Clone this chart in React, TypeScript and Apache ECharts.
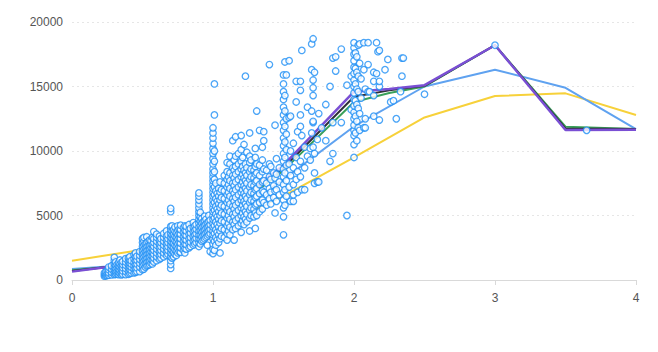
import React, { useEffect, useRef } from "react";
import * as echarts from "echarts";

// Scatter: [carat, prices at that carat]
const smallStones: [number, number[]][] = [
  [0.23, [300, 420, 560]],
  [0.24, [330, 480, 650]],
  [0.25, [350, 520, 720]],
  [0.26, [380, 560, 800, 1000]],
  [0.28, [400, 600, 850, 1100]],
  [0.3, [420, 600, 800, 1000, 1250, 1500, 1750]],
  [0.31, [450, 650, 900, 1150, 1400]],
  [0.32, [480, 700, 950, 1200]],
  [0.33, [420, 620, 850, 1100, 1350]],
  [0.34, [500, 750, 1000, 1250, 1550]],
  [0.35, [400, 600, 850, 1100, 1350]],
  [0.36, [450, 700, 950, 1200, 1450]],
  [0.38, [420, 650, 900, 1150, 1400, 1650]],
  [0.4, [450, 700, 950, 1200, 1450, 1700]],
  [0.41, [500, 800, 1050, 1300, 1550, 1800]],
  [0.42, [550, 750, 1000, 1250, 1500]],
  [0.44, [550, 850, 1100, 1350, 1650, 1950]],
  [0.45, [600, 900, 1200, 1500, 1800, 2100]],
  [0.46, [650, 950, 1250, 1550, 1850]],
  [0.48, [650, 1000, 1300, 1600, 1900, 2200]],
  [0.5, [800, 1100, 1400, 1700, 2000, 2300, 2600, 2900, 3200]],
  [0.51, [850, 1200, 1500, 1800, 2100, 2400, 2700, 3000, 3300]],
  [0.52, [1000, 1300, 1600, 1900, 2200, 2500, 2800]],
  [0.53, [1100, 1400, 1700, 2000, 2300, 2600, 2900, 3350]],
  [0.54, [1150, 1450, 1750, 2050, 2350, 2650, 3000]],
  [0.55, [1200, 1500, 1800, 2100, 2400, 2700, 3100]],
  [0.56, [1300, 1600, 1900, 2200, 2500, 2800, 3050]],
  [0.57, [1250, 1550, 1850, 2150, 2450, 2750, 3300]],
  [0.58, [1400, 1700, 2000, 2300, 2600, 2900, 3200, 3750]],
  [0.6, [1500, 1800, 2100, 2400, 2700, 3000, 3300, 3550]],
  [0.62, [1600, 1900, 2200, 2500, 2800, 3100, 3400]],
  [0.63, [1700, 2000, 2300, 2600, 2900, 3200]],
  [0.65, [1800, 2100, 2400, 2700, 3000, 3300, 3600]],
  [0.67, [1900, 2200, 2500, 2800, 3100, 3400, 3800]],
  [0.68, [2000, 2300, 2600, 2900, 3200, 3500]],
  [0.7, [900, 1200, 1500, 1800, 2100, 2400, 2700, 3000, 3300, 3600, 3900, 4150, 5300, 5550]],
  [0.71, [1700, 2000, 2300, 2600, 2900, 3200, 3500, 3800, 4200]],
  [0.72, [1800, 2150, 2500, 2850, 3200, 3550, 3900]],
  [0.73, [2000, 2350, 2700, 3050, 3400, 3750, 4100]],
  [0.74, [1900, 2250, 2600, 2950, 3300, 3650]],
  [0.75, [2100, 2450, 2800, 3150, 3500, 3850, 4200]],
  [0.76, [2200, 2550, 2900, 3250, 3600, 3950]],
  [0.77, [2150, 2500, 2850, 3200, 3550, 3900, 4250]],
  [0.79, [2300, 2650, 3000, 3350, 3700, 4050]],
  [0.8, [2100, 2450, 2800, 3150, 3500, 3850, 4200]],
  [0.81, [2400, 2750, 3100, 3450, 3800, 4150]],
  [0.83, [2500, 2850, 3200, 3550, 3900, 4300]],
  [0.84, [2600, 2950, 3300, 3650, 4000]],
  [0.86, [2700, 3050, 3400, 3750, 4100, 4450]],
  [0.87, [2800, 3150, 3500, 3850, 4200]],
  [0.88, [2900, 3250, 3600, 3950, 4300]],
  [0.9, [2600, 2900, 3200, 3500, 3800, 4100, 4400, 4700, 5000, 5300, 5600, 5900, 6200, 6500, 6750]],
  [0.91, [2800, 3150, 3500, 3850, 4200, 4550, 4900, 5250]],
  [0.92, [3000, 3350, 3700, 4050, 4400, 4750]],
  [0.93, [3100, 3450, 3800, 4150, 4500]],
  [0.94, [3200, 3550, 3900, 4250, 4600, 4950]],
  [0.95, [3300, 3650, 4000, 4350, 4700]],
  [0.96, [2700, 3400, 3750, 4100, 4450]],
  [0.97, [3500, 3850, 4200, 4550, 5000]],
  [0.98, [2200, 3600, 3950, 4300, 4650]],
];

const midStones: [number, number[]][] = [
  [1.0, [2050, 2400, 2800, 3200, 3500, 3800, 4100, 4400, 4700, 5000, 5300, 5600, 5900, 6200, 6500, 6800, 7100, 7400, 7700, 8000, 8300, 8600, 9000, 9400, 9800, 10200, 10600, 11000, 11400, 11800]],
  [1.01, [2300, 3000, 3600, 4200, 4800, 5400, 6000, 6600, 7200, 7800, 8400, 9200, 10000, 12800, 15200]],
  [1.02, [2700, 3300, 3900, 4500, 5100, 5700, 6300, 6900, 7500]],
  [1.03, [3100, 3700, 4300, 4900, 5500, 6100, 6700]],
  [1.04, [2900, 3500, 4100, 4700, 5300, 5900, 6500, 7100]],
  [1.05, [2100, 3200, 3800, 4400, 5000, 5600, 6200, 6800, 7600]],
  [1.06, [3400, 4000, 4600, 5200, 5800, 6400, 7000]],
  [1.08, [3300, 3900, 4500, 5100, 5700, 6300, 6900, 7500, 8100]],
  [1.1, [3100, 3600, 4200, 4800, 5400, 6000, 6600, 7200, 7800, 8400, 9100]],
  [1.11, [3800, 4400, 5000, 5600, 6200, 6800, 7400, 8000]],
  [1.12, [3500, 4100, 4700, 5300, 5900, 6500, 7100, 7700, 8300, 9000, 9600]],
  [1.14, [3900, 4500, 5100, 5700, 6300, 6900, 7500, 8100, 8700, 10800]],
  [1.15, [3100, 4300, 4900, 5500, 6100, 6700, 7300, 7900, 8500, 9300]],
  [1.16, [4000, 4600, 5200, 5800, 6400, 7000, 7600, 8200, 8800, 9600, 11100]],
  [1.18, [4200, 4800, 5400, 6000, 6600, 7200, 7800, 8400, 9000, 9800]],
  [1.2, [3700, 4400, 5000, 5600, 6200, 6800, 7400, 8000, 8600, 9200, 10100, 11200]],
  [1.21, [4600, 5200, 5800, 6400, 7000, 7600, 8200, 8800, 9500]],
  [1.22, [4300, 4900, 5500, 6100, 6700, 7300, 7900, 8500, 10500]],
  [1.23, [4700, 5300, 5900, 6500, 7100, 7700, 8300, 9000, 15800]],
  [1.24, [4500, 5100, 5700, 6300, 6900, 7500, 8100, 8700, 9900]],
  [1.26, [3800, 4800, 5400, 6000, 6600, 7200, 7800, 8400, 9100, 9600, 11400]],
  [1.27, [5000, 5600, 6200, 6800, 7400, 8000, 8600, 9300]],
  [1.29, [4900, 5500, 6100, 6700, 7300, 7900, 8500]],
  [1.3, [4000, 5200, 5800, 6400, 7000, 7600, 8200, 8800, 9500, 10200]],
  [1.31, [5000, 5900, 6500, 7100, 7700, 8300, 9000, 13100]],
  [1.33, [5300, 6000, 6700, 7400, 8100, 8900, 11600]],
  [1.35, [5500, 6200, 6900, 7600, 8400, 9300, 10300]],
  [1.36, [6000, 6800, 7700, 8600, 10800, 11500]],
  [1.38, [5800, 6600, 7500, 8500]],
  [1.4, [6300, 7100, 8000, 9000, 16700]],
  [1.41, [5900, 6800, 7800, 8800]],
  [1.43, [6400, 7300, 8300]],
  [1.44, [5200, 6900, 7900, 12000]],
  [1.45, [6100, 7000, 8200, 9400]],
  [1.47, [6600, 7600, 8700]],
];

const largeStones: [number, number[]][] = [
  [1.5, [3500, 4900, 5600, 6200, 6800, 7400, 8000, 8600, 9200, 9800, 10400, 11000, 11600, 12200, 12800, 13400, 14000, 14600, 15200, 15900]],
  [1.51, [5800, 7000, 8300, 9500, 10700, 11900, 13100, 14300, 16900]],
  [1.52, [6500, 7700, 8900, 10100, 11300, 12500, 15900]],
  [1.54, [7200, 9000, 12600, 17000]],
  [1.55, [6100, 8100, 10000, 12700]],
  [1.57, [6100, 6600, 7400, 8700, 10600]],
  [1.59, [7800, 9500, 13800, 15400]],
  [1.6, [6800, 8400, 11500]],
  [1.62, [8000, 9200, 11900, 12800, 14700, 15400]],
  [1.63, [7000, 11200, 17800]],
  [1.65, [7000, 8700, 10300]],
  [1.67, [9600, 13400]],
  [1.69, [9300, 10200]],
  [1.7, [11400, 13100, 16300, 18300]],
  [1.71, [10300, 12200, 12300, 14300, 14900, 15500, 18700]],
  [1.72, [7500, 8300, 9800, 16100]],
  [1.74, [7600, 10900]],
  [1.75, [7600, 12900]],
  [1.77, [11800]],
  [1.8, [10800, 13600]],
  [1.83, [9200, 15000]],
  [1.85, [9800, 12200, 17200]],
  [1.87, [16200, 17300]],
  [1.91, [12200, 17900]],
  [1.95, [5000, 15100]],
  [1.98, [13200, 15800]],
  [2.0, [9500, 10500, 11200, 11600, 12000, 12500, 13000, 13500, 14000, 14500, 15000, 15500, 16000, 16500, 17000, 17500, 18000, 18400]],
  [2.01, [11400, 12700, 13900, 15200, 16400, 17600]],
  [2.02, [10800, 12300, 13600, 14800, 16100, 17300]],
  [2.03, [11800, 13300, 14600, 15800, 18200]],
  [2.04, [11600, 12900, 16800, 18300]],
  [2.05, [14100, 15600]],
  [2.07, [11800, 16300, 18400]],
  [2.08, [11800, 12500, 14800]],
  [2.1, [14600, 16700, 18400]],
  [2.11, [14600]],
  [2.14, [12700, 14300, 15400, 16100]],
  [2.16, [16000, 18400]],
  [2.17, [17700]],
  [2.18, [12400, 15000, 15400, 17800]],
  [2.22, [16300]],
  [2.24, [17100]],
  [2.26, [13800]],
  [2.28, [13900]],
  [2.3, [12500]],
  [2.33, [14600]],
  [2.34, [15800, 17200]],
  [2.35, [17200]],
  [2.5, [14400]],
  [3.0, [18200]],
  [3.65, [11600]],
];

// Trend lines
const fineX = [0, 0.25, 0.5, 0.75, 1, 1.25, 1.5, 2, 2.25, 2.5, 3, 3.5, 4];
const coarseX = [0, 0.5, 1, 1.5, 2, 2.5, 3, 3.5, 4];
const blueX = [0, 0.25, 0.5, 0.75, 1, 1.25, 1.5, 2, 2.5, 3, 3.5, 4];

const yellowLine = [1500, 2350, 4000, 6500, 9500, 12600, 14260, 14470, 12790];
const blueLine = [850, 1050, 1800, 2900, 4200, 5900, 7800, 11900, 15000, 16300, 14900, 11700];
const greenLine = [750, 1000, 1850, 3000, 4600, 6400, 8500, 13800, 14500, 15000, 18200, 11880, 11700];
const darkLine = [700, 1000, 1900, 3000, 4650, 6600, 8700, 14200, 14700, 15050, 18200, 11750, 11700];
const purpleLine = [650, 1000, 1950, 3100, 4750, 6800, 8900, 14600, 14800, 15100, 18200, 11630, 11650];

const yTicks = [0, 5000, 10000, 15000, 20000];

const flatten = (groups: [number, number[]][]) => {
  const out: number[][] = [];
  groups.forEach(([c, ps]) => ps.forEach((p) => out.push([c, p])));
  return out;
};
const zip = (xs: number[], ys: number[]) => ys.map((y, i) => [xs[i], y]);

export default function App() {
  const ref = useRef<HTMLDivElement>(null);
  useEffect(() => {
    document.body.style.margin = "0";
    if (!ref.current) return;
    const chart = echarts.init(ref.current, undefined, { renderer: "svg" });
    const lineSeries = (name: string, data: number[][], color: string, width = 2) => ({
      name,
      type: "line",
      data,
      symbol: "none",
      lineStyle: { color, width },
      itemStyle: { color },
      z: 2,
    });
    chart.setOption({
      animation: false,
      grid: { left: 72, right: 22, top: 22, bottom: 72 },
      xAxis: {
        type: "value",
        min: 0,
        max: 4,
        interval: 1,
        axisLine: { show: true, lineStyle: { color: "#d9d9d9" } },
        axisTick: { show: true, length: 5, lineStyle: { color: "#d9d9d9" } },
        axisLabel: { color: "#555", fontSize: 12, margin: 12, fontFamily: "sans-serif" },
        splitLine: { show: false },
      },
      yAxis: {
        type: "value",
        min: yTicks[0],
        max: yTicks[yTicks.length - 1],
        interval: 5000,
        axisLine: { show: false },
        axisTick: { show: false },
        axisLabel: {
          color: "#555",
          fontSize: 12,
          margin: 9,
          fontFamily: "sans-serif",
          formatter: (v: number) => String(v),
        },
        splitLine: { lineStyle: { color: "#e6e6e6", type: [2, 3] } },
      },
      series: [
        lineSeries("yellow", zip(coarseX, yellowLine), "#f7d13a"),
        lineSeries("blue", zip(blueX, blueLine), "#5fa2f0"),
        lineSeries("green", zip(fineX, greenLine), "#3aa05a"),
        lineSeries("dark", zip(fineX, darkLine), "#2f2f3a"),
        lineSeries("purple", zip(fineX, purpleLine), "#7a4fd4", 2.5),
        {
          name: "diamonds",
          type: "scatter",
          data: [...flatten(smallStones), ...flatten(midStones), ...flatten(largeStones)],
          symbol: "circle",
          symbolSize: 6.5,
          itemStyle: { color: "#ffffff", borderColor: "#1e8ef5", borderWidth: 1.3 },
          z: 3,
        },
      ],
    });
    return () => chart.dispose();
  }, []);
  return <div ref={ref} style={{ width: 658, height: 352 }} />;
}
